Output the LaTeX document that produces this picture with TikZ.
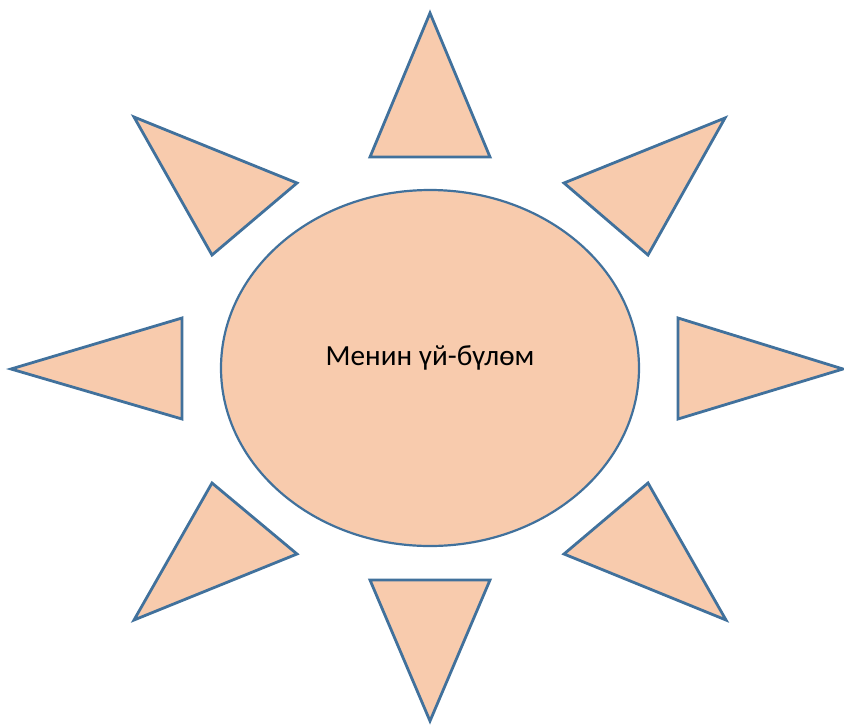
\documentclass[tikz,border=0pt]{standalone}
\usepackage{fontspec}
\setmainfont{Carlito}
\usetikzlibrary{shapes.geometric}
\definecolor{rayfill}{RGB}{248,203,173}
\definecolor{raystroke}{RGB}{65,113,156}
\begin{document}
\begin{tikzpicture}[x=1pt,y=-1pt,
  shapestyle/.style={fill=rayfill,draw=raystroke,line width=2.8pt,line join=miter}]
\useasboundingbox (0,0) rectangle (844,724);
\draw[shapestyle] (430,13) -- (490,157) -- (370,157) -- cycle;
\draw[shapestyle] (134,117) -- (297,183) -- (212,255) -- cycle;
\draw[shapestyle] (11,369) -- (182,318) -- (182,419) -- cycle;
\draw[shapestyle] (212,483) -- (297,554) -- (134,620) -- cycle;
\draw[shapestyle] (370,580) -- (490,580) -- (430,721) -- cycle;
\draw[shapestyle] (648,483) -- (726,620) -- (564,554) -- cycle;
\draw[shapestyle] (678,318) -- (843,369) -- (678,419) -- cycle;
\draw[shapestyle] (725,118) -- (648,255) -- (564,183) -- cycle;
\node[shapestyle,ellipse,minimum width=418pt,minimum height=356pt,inner sep=0pt,line width=2.2pt] (sun) at (430,368) {};
\node[font=\fontsize{29.2}{35}\selectfont] (label) at (430,358) {Менин үй-бүлөм};
\end{tikzpicture}
\end{document}
